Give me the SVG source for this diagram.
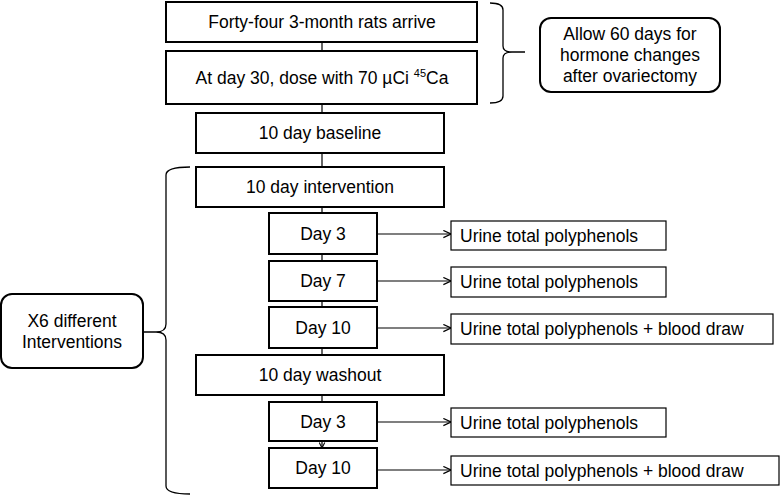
<svg xmlns="http://www.w3.org/2000/svg" width="780" height="496" viewBox="0 0 780 496">
<defs>
<style>
text{font-family:"Liberation Sans",Arial,sans-serif;font-size:17.5px;fill:#000}
.c{text-anchor:middle}
.b{fill:#fff;stroke:#000;stroke-width:2}
.r{fill:#fff;stroke:#000;stroke-width:1.2}
.ln{fill:none;stroke:#000;stroke-width:1.2}
.br{fill:none;stroke:#000;stroke-width:1.3}
</style>
<marker id="ah" viewBox="0 0 10 10" refX="9.5" refY="5" markerWidth="9" markerHeight="9" markerUnits="userSpaceOnUse" orient="auto">
<path d="M1,1 L9.5,5 L1,9" fill="none" stroke="#000" stroke-width="1.3"/>
</marker>
<marker id="ahd" viewBox="0 0 10 10" refX="9" refY="5" markerWidth="7" markerHeight="7" markerUnits="userSpaceOnUse" orient="auto">
<path d="M1,1 L9,5 L1,9" fill="none" stroke="#000" stroke-width="1.5"/>
</marker>
</defs>
<rect width="780" height="496" fill="#fff"/>
<g id="connectors">
<path class="ln" d="M322,42V51M322,104V113M322,153V167M322,207V213M322,254V261M322,301V307M322,348V355M322,395V402"/>
<path class="ln" d="M322,441V448" marker-end="url(#ahd)"/>
<path class="ln" d="M377,234H451" marker-end="url(#ah)"/>
<path class="ln" d="M377,281H451" marker-end="url(#ah)"/>
<path class="ln" d="M377,328H451" marker-end="url(#ah)"/>
<path class="ln" d="M377,422H451" marker-end="url(#ah)"/>
<path class="ln" d="M377,470H451" marker-end="url(#ah)"/>
<path class="br" d="M490,3 Q503,3 503,10 V46 Q503,52 512,52 H525 M512,52 Q503,52 503,58 V96 Q503,103 490,103"/>
<path class="br" d="M190,167 Q166,167 166,175 V324 Q166,332 156,332 H143 M156,332 Q166,332 166,340 V486 Q166,494 190,494"/>
</g>
<g id="n1"><rect class="b" x="166" y="2" width="311" height="40"/><text class="c" x="322" y="28">Forty-four 3-month rats arrive</text></g>
<g id="n2"><rect class="b" x="166" y="51" width="311" height="53"/><text class="c" x="322" y="84">At day 30, dose with 70 µCi <tspan font-size="11" dy="-7">45</tspan><tspan dy="7">Ca</tspan></text></g>
<g id="n3"><rect class="b" x="196" y="113" width="248" height="40"/><text class="c" x="320" y="139">10 day baseline</text></g>
<g id="n4"><rect class="b" x="196" y="167" width="248" height="40"/><text class="c" x="320" y="193">10 day intervention</text></g>
<g id="n5"><rect class="b" x="269" y="213" width="108" height="41"/><text class="c" x="323" y="240">Day 3</text></g>
<g id="n6"><rect class="b" x="269" y="261" width="108" height="40"/><text class="c" x="323" y="287">Day 7</text></g>
<g id="n7"><rect class="b" x="269" y="307" width="108" height="41"/><text class="c" x="323" y="334">Day 10</text></g>
<g id="n8"><rect class="b" x="196" y="355" width="248" height="40"/><text class="c" x="320" y="381">10 day washout</text></g>
<g id="n9"><rect class="b" x="269" y="402" width="108" height="39"/><text class="c" x="323" y="428">Day 3</text></g>
<g id="n10"><rect class="b" x="269" y="448" width="108" height="40"/><text class="c" x="323" y="474">Day 10</text></g>
<g id="o1"><rect class="r" x="451" y="221" width="215" height="29"/><text x="460" y="242">Urine total polyphenols</text></g>
<g id="o2"><rect class="r" x="451" y="267" width="215" height="30"/><text x="460" y="288">Urine total polyphenols</text></g>
<g id="o3"><rect class="r" x="451" y="314" width="322" height="30"/><text x="460" y="335">Urine total polyphenols + blood draw</text></g>
<g id="o4"><rect class="r" x="451" y="408" width="215" height="29"/><text x="460" y="429">Urine total polyphenols</text></g>
<g id="o5"><rect class="r" x="451" y="456" width="328" height="29"/><text x="460" y="477">Urine total polyphenols + blood draw</text></g>
<g id="note1"><rect class="b" x="540" y="18" width="180" height="74" rx="11"/><text class="c" x="630" y="40">Allow 60 days for</text><text class="c" x="630" y="61">hormone changes</text><text class="c" x="630" y="82">after ovariectomy</text></g>
<g id="note2"><rect class="b" x="1" y="294" width="142" height="74" rx="11"/><text class="c" x="72" y="327">X6 different</text><text class="c" x="72" y="348">Interventions</text></g>
</svg>
